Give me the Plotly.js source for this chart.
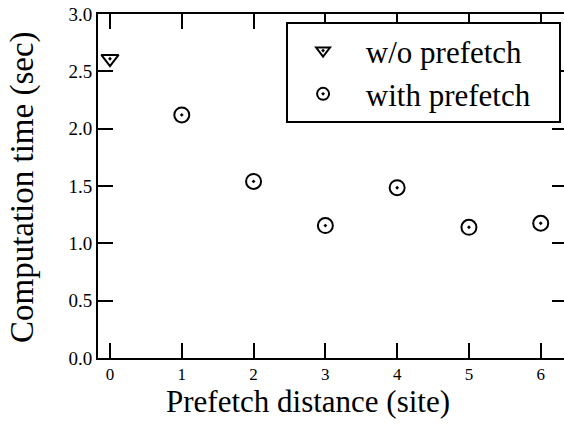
<!DOCTYPE html>
<html>
<head>
<meta charset="utf-8">
<script src="https://cdn.plot.ly/plotly-3.0.1.min.js"></script>
<style>
html, body { margin: 0; padding: 0; overflow: hidden; background: #fff; }
#chart { width: 570px; height: 432px; }
</style>
</head>
<body>
<div id="chart"></div>
<script>
// Data
var noPrefetchName = "w/o prefetch";
var noPrefetchX = [0];
var noPrefetchY = [2.61];

var prefetchName = "with prefetch";
var prefetchX = [1, 2, 3, 4, 5, 6];
var prefetchY = [2.12, 1.54, 1.155, 1.485, 1.14, 1.175];

var xTickVals = [0, 1, 2, 3, 4, 5, 6];
var yTickVals = [0, 0.5, 1.0, 1.5, 2.0, 2.5, 3.0];

var xTitle = "Prefetch distance (site)";
var yTitle = "Computation time (sec)";

var FONT = "Liberation Serif";
var lead = "\u00a0";
var trail = "\u00a0\u00a0\u00a0";

var traces = [
  {
    x: noPrefetchX, y: noPrefetchY, name: lead + noPrefetchName,
    type: "scatter", mode: "markers",
    marker: { symbol: "triangle-down-open-dot", size: 15, color: "#000", line: { width: 2, color: "#000" } }
  },
  {
    x: prefetchX, y: prefetchY, name: lead + prefetchName + trail,
    type: "scatter", mode: "markers",
    marker: { symbol: "circle-open-dot", size: 15, color: "#000", line: { width: 2, color: "#000" } }
  }
];

var axisCommon = {
  showline: true, linewidth: 2, linecolor: "#000",
  mirror: "ticks", ticks: "inside", ticklen: 15, tickwidth: 2, tickcolor: "#000",
  showgrid: false, zeroline: false
};

var layout = {
  width: 570, height: 432,
  margin: { l: 98, r: 3, t: 14, b: 74 },
  paper_bgcolor: "#fff", plot_bgcolor: "#fff",
  font: { family: FONT, color: "#000" },
  showlegend: true,
  legend: {
    x: 0.401, y: 0.977, xanchor: "left", yanchor: "top",
    bgcolor: "#fff", bordercolor: "#000", borderwidth: 2,
    font: { family: FONT, size: 31, color: "#000" },
    itemsizing: "constant", itemwidth: 60
  },
  xaxis: Object.assign({}, axisCommon, {
    range: [-0.167, 6.366],
    tickmode: "array", tickvals: xTickVals,
    tickfont: { family: FONT, size: 17, color: "#000" }
  }),
  yaxis: Object.assign({}, axisCommon, {
    range: [0, 3],
    tickmode: "array", tickvals: yTickVals, tickformat: ".1f",
    tickfont: { family: FONT, size: 19, color: "#000" }
  }),
  annotations: [
    {
      text: xTitle, xref: "paper", yref: "paper", x: 0.4467, y: -0.125,
      xanchor: "center", yanchor: "middle", showarrow: false,
      font: { family: FONT, size: 31, color: "#000" }
    },
    {
      text: yTitle, xref: "paper", yref: "paper", x: -0.162, y: 0.497,
      xanchor: "center", yanchor: "middle", showarrow: false, textangle: -90,
      font: { family: FONT, size: 33, color: "#000" }
    }
  ]
};

Plotly.newPlot("chart", traces, layout, { displayModeBar: false, staticPlot: true });
</script>
</body>
</html>
